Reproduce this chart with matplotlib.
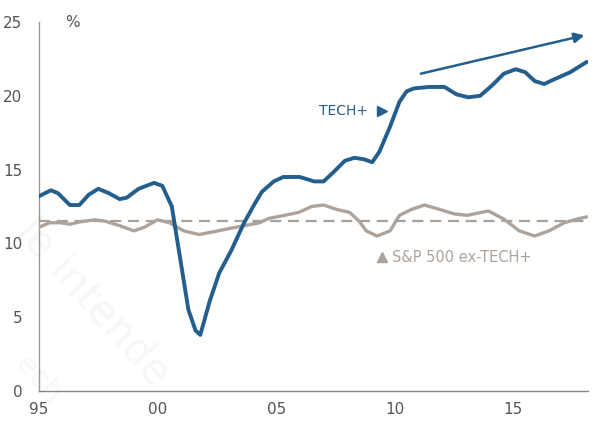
import matplotlib
matplotlib.use("Agg")
import matplotlib.pyplot as plt
import numpy as np

# TECH+ series (year, %)
tech_years = [1995.0, 1995.5, 1995.8, 1996.3, 1996.7, 1997.1, 1997.5, 1997.95, 1998.4, 1998.7,
              1999.2, 1999.85, 2000.2, 2000.6, 2000.9, 2001.3, 2001.6, 2001.8, 2002.2, 2002.6,
              2003.1, 2003.65, 2004.1, 2004.4, 2004.9, 2005.3, 2006.0, 2006.6, 2007.0, 2007.4,
              2007.9, 2008.3, 2008.7, 2009.05, 2009.35, 2009.8, 2010.2, 2010.5, 2010.8, 2011.45,
              2012.1, 2012.6, 2013.1, 2013.6, 2014.1, 2014.6, 2015.1, 2015.5, 2015.9, 2016.3,
              2016.7, 2017.4, 2017.8, 2018.1]
tech_vals = [13.2, 13.6, 13.4, 12.6, 12.6, 13.3, 13.7, 13.4, 13.0, 13.1,
             13.7, 14.1, 13.9, 12.5, 9.5, 5.5, 4.1, 3.8, 6.1, 8.0,
             9.5, 11.4, 12.7, 13.5, 14.2, 14.5, 14.5, 14.2, 14.2, 14.8,
             15.6, 15.8, 15.7, 15.5, 16.2, 17.9, 19.6, 20.3, 20.5, 20.6,
             20.6, 20.1, 19.9, 20.0, 20.7, 21.5, 21.8, 21.6, 21.0, 20.8,
             21.1, 21.6, 22.0, 22.3]

# S&P 500 ex-TECH+ series (year, %)
ex_years = [1995.0, 1995.45, 1995.9, 1996.3, 1996.7, 1997.35, 1997.8, 1998.4, 1999.0, 1999.45,
            2000.0, 2000.5, 2001.1, 2001.75, 2002.4, 2003.0, 2003.65, 2004.3, 2004.7, 2005.35,
            2005.95, 2006.5, 2007.0, 2007.55, 2008.1, 2008.5, 2008.8, 2009.25, 2009.8, 2010.2,
            2010.7, 2011.25, 2011.9, 2012.5, 2013.05, 2013.95, 2014.6, 2015.25, 2015.9, 2016.5,
            2017.15, 2017.7, 2018.1]
ex_vals = [11.1, 11.4, 11.4, 11.3, 11.45, 11.6, 11.5, 11.2, 10.85, 11.1,
           11.6, 11.4, 10.85, 10.6, 10.8, 11.0, 11.2, 11.4, 11.7, 11.9,
           12.1, 12.5, 12.6, 12.3, 12.1, 11.5, 10.85, 10.5, 10.85, 11.9,
           12.3, 12.6, 12.3, 12.0, 11.9, 12.2, 11.65, 10.85, 10.5, 10.85,
           11.4, 11.65, 11.8]

avg_value = 11.5

# trend arrow (start, end)
arrow_start = (2011.1, 21.5)
arrow_end = (2018.0, 24.1)

x_ticks = [1995, 2000, 2005, 2010, 2015]
x_labels = ["95", "00", "05", "10", "15"]
y_ticks = [0, 5, 10, 15, 20, 25]

BLUE = "#235e8d"
GRAY = "#aca39c"
DASH = "#a8a09a"
TXT = "#555555"

fig = plt.figure(figsize=(6.02, 4.21), dpi=100)
ax = fig.add_axes([0.0648, 0.0713, 0.912, 0.8764])

# faint watermark (kept inside the canvas)
fig.text(0.065, 0.50, "le intende", fontsize=30, color="#000000", alpha=0.035,
         rotation=-48, ha="left", va="top", rotation_mode="anchor", zorder=0)
fig.text(0.05, 0.17, "ech", fontsize=22, color="#000000", alpha=0.035,
         rotation=-48, ha="left", va="top", rotation_mode="anchor", zorder=0)

ax.axhline(avg_value, color=DASH, lw=1.6, ls=(0, (5, 3)), zorder=2)
ax.plot(ex_years, ex_vals, color=GRAY, lw=2.4, solid_capstyle="round", zorder=3)
ax.plot(tech_years, tech_vals, color=BLUE, lw=2.8, solid_capstyle="round", zorder=4)

ax.annotate("", xy=arrow_end, xytext=arrow_start,
            arrowprops=dict(arrowstyle="-|>,head_length=0.6,head_width=0.3",
                            color=BLUE, lw=1.8, shrinkA=0, shrinkB=0))

ax.text(2006.8, 19.0, "TECH+", color=BLUE, fontsize=10, ha="left", va="center")
ax.plot([2009.45], [19.0], marker=">", color=BLUE, ms=7.5, ls="none")
ax.plot([2009.45], [9.05], marker="^", color=GRAY, ms=7, ls="none")
ax.text(2009.9, 9.05, "S&P 500 ex-TECH+", color=GRAY, fontsize=10.5, ha="left", va="center")

ax.set_xlim(1995, 2018.15)
ax.set_ylim(0, 25)
ax.set_xticks(x_ticks)
ax.set_xticklabels(x_labels)
ax.set_yticks(y_ticks)
ax.tick_params(axis="both", length=0, labelsize=11, colors=TXT)
ax.tick_params(axis="y", pad=12)
ax.tick_params(axis="x", pad=8)

for s in ["top", "right"]:
    ax.spines[s].set_visible(False)
ax.spines["left"].set_color("#999999")
ax.spines["bottom"].set_color("#888888")
ax.spines["left"].set_linewidth(1.0)
ax.spines["bottom"].set_linewidth(1.0)

ax.text(1996.1, 25, "%", color=TXT, fontsize=11, ha="left", va="center")

fig.savefig("out.png", dpi=100, facecolor="white")
